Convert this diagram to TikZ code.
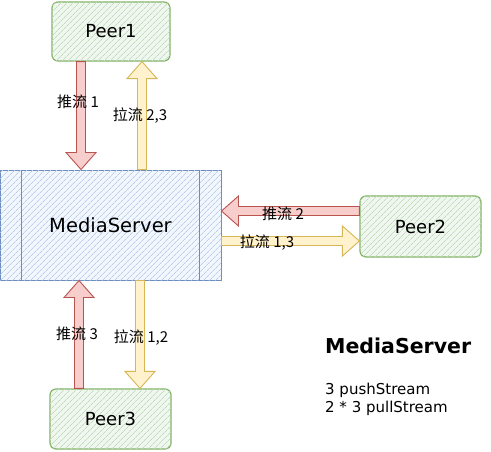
\documentclass[tikz,border=0pt]{standalone}
\usepackage{fontspec}
\setmainfont{DejaVu Sans}
\newfontfamily\cjk{Noto Sans CJK SC}
\usetikzlibrary{calc,patterns.meta}
\definecolor{gfill}{HTML}{D5E8D4}\definecolor{gline}{HTML}{82B366}
\definecolor{bfill}{HTML}{DAE8FC}\definecolor{bline}{HTML}{6C8EBF}
\definecolor{rfill}{HTML}{F8CECC}\definecolor{rline}{HTML}{B85450}
\definecolor{yfill}{HTML}{FFF2CC}\definecolor{yline}{HTML}{D6B656}
\tikzset{
  peerbox/.style={draw=gline,line width=1.2pt,rounded corners=6pt,fill=gfill!35,
    postaction={pattern={Lines[angle=45,distance=4pt,line width=0.7pt]},pattern color=gfill!75!gline},
    minimum width=#1,minimum height=60pt,font=\fontsize{18}{21}\selectfont},
  serverbox/.style={draw=bline,line width=1pt,fill=bfill!35,
    postaction={pattern={Lines[angle=45,distance=4pt,line width=0.7pt]},pattern color=bfill!70!bline},
    minimum width=221pt,minimum height=110pt,font=\fontsize{19.5}{23}\selectfont},
  pusharrow/.style={draw=rline,fill=rfill,line width=0.9pt,line join=miter},
  pullarrow/.style={draw=yline,fill=yfill,line width=0.9pt,line join=miter},
  lbl/.style={font=\cjk\fontsize{15}{17}\selectfont,inner sep=0pt},
}
% block arrow from #1 to #2 with style #3
\newcommand\blockarrow[3]{%
  \coordinate (bah) at ($(#2)!17pt!(#1)$);
  \path[#3] ($(#1)!4.5pt!90:(#2)$) -- ($(bah)!4.5pt!-90:(#1)$) -- ($(bah)!15pt!-90:(#1)$)
    -- (#2) -- ($(bah)!15pt!90:(#1)$) -- ($(bah)!4.5pt!90:(#1)$) -- ($(#1)!4.5pt!-90:(#2)$) -- cycle;
}
\begin{document}
\begin{tikzpicture}[x=1pt,y=-1pt]
\useasboundingbox[fill=white] (0,0) rectangle (491,451);
\node[peerbox=118pt,minimum height=59pt] (peer1) at (111,31.5) {Peer1};
\node[serverbox] (server) at (110.5,225) {MediaServer};
\draw[bline,line width=1pt] ($(server.north west)+(22,0)$) -- ($(server.south west)+(22,0)$)
  ($(server.north east)+(-22,0)$) -- ($(server.south east)+(-22,0)$);
\node[peerbox=121pt,minimum height=61pt] (peer2) at (420.5,226.5) {Peer2};
\node[peerbox=121pt] (peer3) at (110.5,419) {Peer3};
% coordinates
\coordinate (a1s) at (81,0 |- peer1.south);
\coordinate (a1e) at (81,0 |- server.north);
\coordinate (b1s) at (142,0 |- server.north);
\coordinate (b1e) at (142,0 |- peer1.south);
\coordinate (a2s) at (peer2.west |- 0,211);
\coordinate (a2e) at (server.east |- 0,211);
\coordinate (b2s) at (server.east |- 0,241);
\coordinate (b2e) at (peer2.west |- 0,241);
\coordinate (a3s) at (79,0 |- peer3.north);
\coordinate (a3e) at (79,0 |- server.south);
\coordinate (b3s) at (140,0 |- server.south);
\coordinate (b3e) at (140,0 |- peer3.north);
\blockarrow{a1s}{a1e}{pusharrow}
\blockarrow{b1s}{b1e}{pullarrow}
\blockarrow{a2s}{a2e}{pusharrow}
\blockarrow{b2s}{b2e}{pullarrow}
\blockarrow{a3s}{a3e}{pusharrow}
\blockarrow{b3s}{b3e}{pullarrow}
\node[lbl] (l1) at (78,102) {推流 1};
\node[lbl] (l2) at (140,116) {拉流 2,3};
\node[lbl] (l3) at (283,214) {推流 2};
\node[lbl] (l4) at (267,243) {拉流 1,3};
\node[lbl] (l5) at (77,334) {推流 3};
\node[lbl] (l6) at (141,338) {拉流 1,2};
\node[font=\bfseries\fontsize{20.5}{24}\selectfont,inner sep=0pt,anchor=west] (title) at (325,346) {MediaServer};
\node[font=\fontsize{15}{18}\selectfont,inner sep=0pt,anchor=north west,align=left] (info) at (325,383) {3 pushStream\\2 * 3 pullStream};
\end{tikzpicture}
\end{document}
